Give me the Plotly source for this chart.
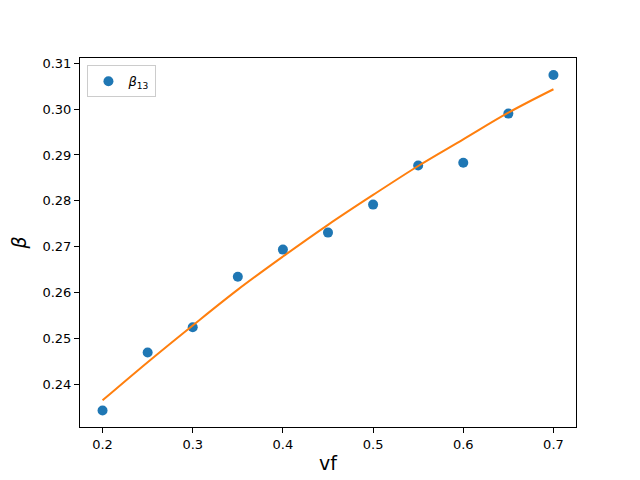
import plotly.graph_objects as go

# data
vf = [0.20, 0.25, 0.30, 0.35, 0.40, 0.45, 0.50, 0.55, 0.60, 0.65, 0.70]
beta13 = [0.2344, 0.2470, 0.2525, 0.2635, 0.2694, 0.2731, 0.2792, 0.2877, 0.2883, 0.2990, 0.3074]
beta_fit = [0.2366, 0.2449, 0.2529, 0.2607, 0.2679, 0.2748, 0.2813, 0.2876, 0.2934, 0.2992, 0.3043]

x_ticks = [0.2, 0.3, 0.4, 0.5, 0.6, 0.7]
y_ticks = [0.24, 0.25, 0.26, 0.27, 0.28, 0.29, 0.30, 0.31]

FONT = "DejaVu Sans"

fig = go.Figure()
fig.add_trace(go.Scatter(
    x=vf, y=beta13, mode="markers", name="<i>β</i><sub>13</sub>",
    marker=dict(color="#1f77b4", size=10),
))
fig.add_trace(go.Scatter(
    x=vf, y=beta_fit, mode="lines", showlegend=False,
    line=dict(color="#ff7f0e", width=2), line_shape="spline",
))

axis_common = dict(
    showgrid=False, zeroline=False, showline=True, mirror=True, automargin=False,
    linecolor="black", linewidth=1, ticks="outside", ticklen=5,
    tickcolor="black", tickfont=dict(family=FONT, size=13, color="black"),
)
# page body adds an 8px offset, so the figure is a bit smaller than the window
fig.update_layout(
    width=632, height=472,
    paper_bgcolor="white", plot_bgcolor="white",
    margin=dict(l=72, r=64, t=50, b=53),
    font=dict(family=FONT, color="black"),
    xaxis=dict(**axis_common, range=[0.175, 0.725], tickvals=x_ticks,
               ticktext=[f"{v:.1f}" for v in x_ticks],
               title=dict(text="vf", font=dict(size=19), standoff=6)),
    yaxis=dict(**axis_common, range=[0.2308, 0.3111], tickvals=y_ticks,
               ticktext=[f"{v:.2f}" for v in y_ticks],
               title=dict(text="<i>β</i>", font=dict(size=19), standoff=10)),
    legend=dict(x=0.015, y=0.98, xanchor="left", yanchor="top",
                bgcolor="rgba(255,255,255,0.8)", bordercolor="#cccccc", borderwidth=1,
                font=dict(family=FONT, size=13)),
)

fig.write_html("out.html")
